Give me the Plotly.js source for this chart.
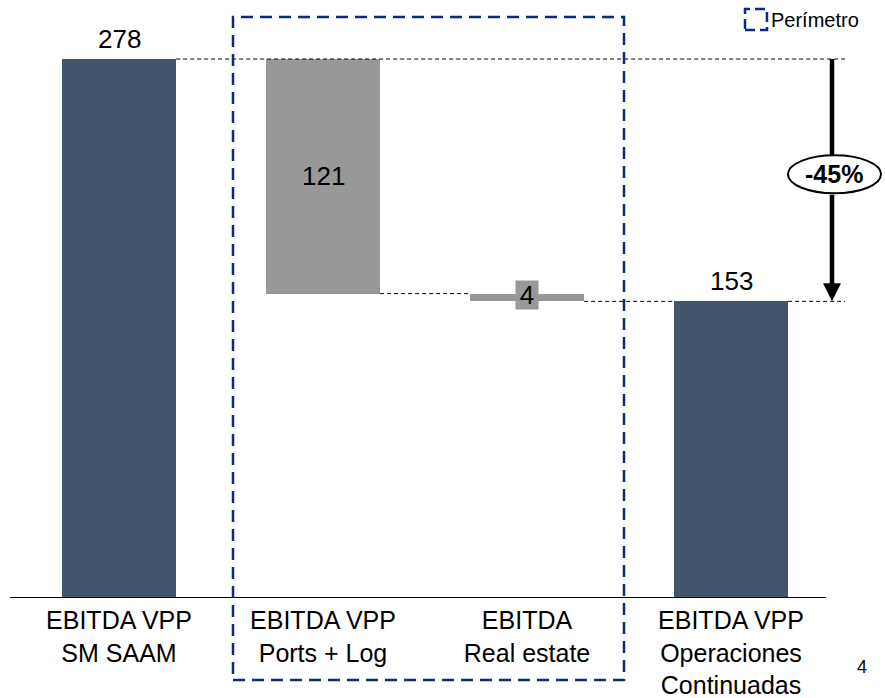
<!DOCTYPE html>
<html>
<head>
<meta charset="utf-8">
<script src="https://cdn.plot.ly/plotly-3.0.1.min.js"></script>
<style>html,body{margin:0;padding:0;background:#fff;}#chart{width:885px;height:698px;}</style>
</head>
<body>
<div id="chart"></div>
<script>
// ---- data ----
const categories = ["EBITDA VPP<br>SM SAAM", "EBITDA VPP<br>Ports + Log", "EBITDA<br>Real estate", "EBITDA VPP<br>Operaciones<br>Continuadas"];
const startValue = 278;
const deltas = [121, 4];
const endValue = 153;
const valueLabels = ["278", "121", "4", "153"];
const legendLabel = "Perímetro";
const pageNumber = "4";

// ---- derived waterfall geometry ----
const bases = [0];
const heights = [startValue];
let level = startValue;
deltas.forEach(d => { level -= d; bases.push(level); heights.push(d); });
bases.push(0); heights.push(endValue);
const tops = bases.map((b, i) => b + heights[i]);
const pct = Math.round((endValue - startValue) / startValue * 100);

const DARK = "#44546a", GREY = "#989898", NAVY = "#0d2b7d";
const FONT = "Arial, 'Liberation Sans', sans-serif";
const W = 0.56; // bar width in category units

// pixel helpers for decorations (plot area: x 0..885, y 10..598)
const X0 = 119, DX = 204, YB = 598, PH = 588;
const xd = p => (p - X0) / DX;
const yp = p => (YB - p) / PH;

const trace = {
  type: "bar",
  x: categories.map((c, i) => i),
  y: heights,
  base: bases,
  width: W,
  marker: { color: [DARK, GREY, GREY, DARK], line: { width: 0 } },
  hoverinfo: "none",
  showlegend: false
};

const ax = xd(832);
const eMid = (tops[0] + tops[3]) / 2 + 3;
const eHalf = 9.8;

const shapes = [];
const dashLine = { color: "#000", width: 1, dash: "4px,3px" };
// connectors
shapes.push({ type: "line", xref: "x", yref: "y", x0: 0 + W/2, x1: xd(845), y0: tops[0], y1: tops[0], line: dashLine });
shapes.push({ type: "line", xref: "x", yref: "y", x0: 1 + W/2, x1: 2 - W/2, y0: bases[1], y1: bases[1], line: dashLine });
shapes.push({ type: "line", xref: "x", yref: "y", x0: 2 + W/2, x1: 3 - W/2, y0: bases[2], y1: bases[2], line: dashLine });
shapes.push({ type: "line", xref: "x", yref: "y", x0: 3 + W/2, x1: xd(845), y0: tops[3], y1: tops[3], line: dashLine });
// baseline
shapes.push({ type: "line", xref: "x", yref: "y", x0: xd(10), x1: xd(826), y0: 0, y1: 0, line: { color: "#000", width: 2 } });
// perimeter dashed box
shapes.push({ type: "rect", xref: "x", yref: "paper", x0: xd(233), x1: xd(624), y0: yp(680), y1: yp(17), line: { color: NAVY, width: 2.5, dash: "12px,7px" }, fillcolor: "rgba(0,0,0,0)" });
// legend icon
shapes.push({ type: "rect", xref: "x", yref: "paper", x0: xd(745), x1: xd(767), y0: yp(30), y1: yp(9), line: { color: NAVY, width: 2.5, dash: "10px,5px" }, fillcolor: "rgba(0,0,0,0)" });
// arrow upper segment
shapes.push({ type: "line", xref: "x", yref: "y", x0: ax, x1: ax, y0: tops[0], y1: eMid + eHalf, line: { color: "#000", width: 4.5 } });
// ellipse
shapes.push({ type: "circle", xref: "x", yref: "y", x0: xd(788), x1: xd(881), y0: eMid - eHalf, y1: eMid + eHalf, line: { color: "#000", width: 2 }, fillcolor: "#fff", layer: "above" });

const annotations = [
  // arrow lower segment with head
  { x: ax, y: tops[3], ax: ax, ay: eMid - eHalf, xref: "x", yref: "y", axref: "x", ayref: "y", showarrow: true, arrowhead: 2, arrowsize: 0.8, arrowwidth: 4.5, arrowcolor: "#000", text: "" },
  { x: xd(834), y: eMid, xref: "x", yref: "y", text: "<b>" + pct + "%</b>", showarrow: false, font: { family: FONT, size: 25, color: "#000" } },
  // value labels
  { x: 0, y: tops[0], xref: "x", yref: "y", yanchor: "bottom", yshift: 3, text: valueLabels[0], showarrow: false, font: { family: FONT, size: 26, color: "#000" } },
  { x: 1, y: bases[1] + heights[1] / 2, xref: "x", yref: "y", text: valueLabels[1], showarrow: false, font: { family: FONT, size: 26, color: "#000" } },
  { x: 2, y: bases[2] + heights[2] / 2, xref: "x", yref: "y", yshift: 2, text: valueLabels[2], showarrow: false, bgcolor: GREY, borderpad: 0, width: 22, height: 28, font: { family: FONT, size: 26, color: "#000" } },
  { x: 3, y: tops[3], xref: "x", yref: "y", yanchor: "bottom", yshift: 3, text: valueLabels[3], showarrow: false, font: { family: FONT, size: 26, color: "#000" } },
  // legend text
  { x: xd(769), y: yp(20), xref: "x", yref: "paper", xanchor: "left", yanchor: "middle", text: legendLabel, showarrow: false, font: { family: FONT, size: 20, color: "#000" } },
  // page number
  { x: xd(862), y: yp(667), xref: "x", yref: "paper", xanchor: "center", yanchor: "middle", text: pageNumber, showarrow: false, font: { family: FONT, size: 18, color: "#000" } }
];

const layout = {
  width: 885, height: 698,
  margin: { l: 0, r: 0, t: 10, b: 100, pad: 0 },
  paper_bgcolor: "#fff", plot_bgcolor: "#fff",
  showlegend: false,
  bargap: 0,
  xaxis: {
    range: [xd(0), xd(885)],
    tickmode: "array",
    tickvals: categories.map((c, i) => i),
    ticktext: categories,
    tickfont: { family: FONT, size: 25, color: "#000" },
    ticklabelstandoff: 5,
    showgrid: false, zeroline: false, showline: false, ticks: "",
    fixedrange: true
  },
  yaxis: {
    range: [0, PH / ((YB - 59) / startValue)],
    visible: false, showgrid: false, zeroline: false, fixedrange: true
  },
  shapes: shapes,
  annotations: annotations
};

Plotly.newPlot("chart", [trace], layout, { displayModeBar: false, staticPlot: true });
</script>
</body>
</html>
